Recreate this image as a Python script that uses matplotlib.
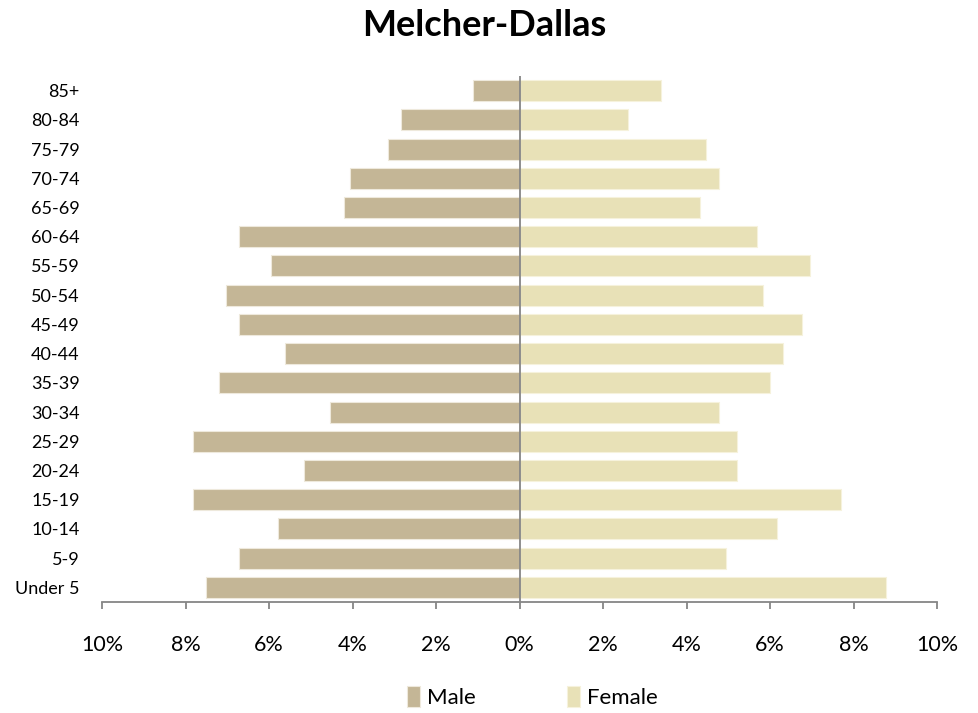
import matplotlib.pyplot as plt

ages = ['Under 5', '5-9', '10-14', '15-19', '20-24', '25-29', '30-34', '35-39',
        '40-44', '45-49', '50-54', '55-59', '60-64', '65-69', '70-74', '75-79',
        '80-84', '85+']
male = [7.51, 6.72, 5.79, 7.82, 5.17, 7.82, 4.55, 7.20,
        5.62, 6.72, 7.03, 5.96, 6.72, 4.21, 4.07, 3.14, 2.83, 1.11]
female = [8.77, 4.95, 6.16, 7.70, 5.22, 5.22, 4.77, 6.01,
          6.32, 6.77, 5.84, 6.95, 5.70, 4.33, 4.77, 4.47, 2.61, 3.40]
ticks = [-10, -8, -6, -4, -2, 0, 2, 4, 6, 8, 10]

plt.rcParams['font.family'] = ['Lato', 'DejaVu Sans']

fig = plt.figure(figsize=(9.79, 7.13), dpi=100)
ax = fig.add_axes([102/979, 1 - 602/713, 835/979, 526/713])

y = range(len(ages))
ax.barh(y, [-v for v in male], height=0.72, color='#C4B696',
        edgecolor='#EEE9DC', linewidth=0.8, label='Male')
ax.barh(y, female, height=0.72, color='#E8E1B7',
        edgecolor='#F6F2DC', linewidth=0.8, label='Female')

ax.set_xlim(-10, 10)
ax.set_ylim(-0.5, 17.5)
ax.set_xticks(ticks)
ax.set_xticklabels([f'{abs(t)}%' for t in ticks], fontsize=15.5)
ax.set_yticks(list(y))
ax.set_yticklabels(ages, fontsize=13)

for s in ['top', 'right', 'left']:
    ax.spines[s].set_visible(False)
ax.spines['bottom'].set_color('#868686')
ax.spines['bottom'].set_linewidth(1.3)
ax.axvline(0, color='#868686', linewidth=1.3, ymax=1.0)
ax.tick_params(axis='x', direction='out', length=5, width=1.3,
               color='#868686', pad=19)
ax.tick_params(axis='y', length=0, pad=16)

fig.text(0.495, 1 - 26/713, 'Melcher-Dallas', ha='center', va='center',
         fontsize=26, fontweight='bold')

fig.legend(loc='center', bbox_to_anchor=(532/979, 1 - 697/713), ncol=2,
           frameon=False, fontsize=16, handlelength=0.6, handleheight=1.1,
           handletextpad=0.3, columnspacing=4.1)

fig.savefig('out.png', dpi=100)
